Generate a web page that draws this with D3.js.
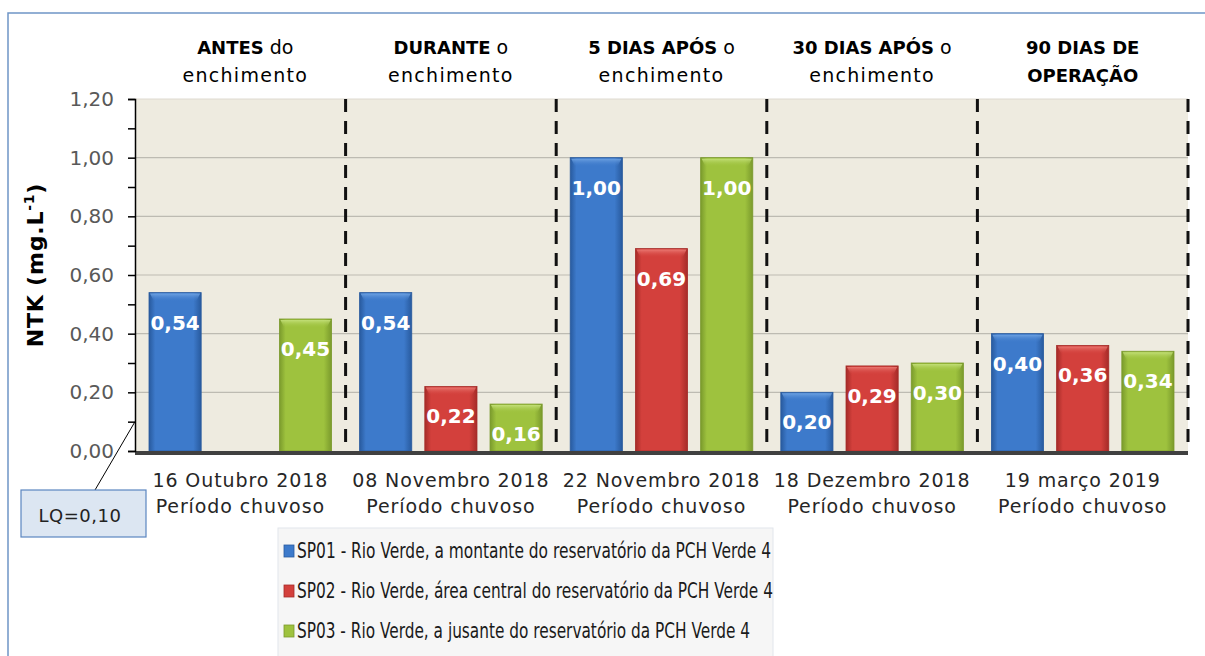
<!DOCTYPE html>
<html><head><meta charset="utf-8">
<script src="https://cdn.jsdelivr.net/npm/d3@7"></script>
<style>body{margin:0;background:#fff}svg{display:block}</style>
</head><body>
<svg id="c" width="1205" height="656"></svg>
<script>
const categories = ["16 Outubro 2018","08 Novembro 2018","22 Novembro 2018","18 Dezembro 2018","19 março 2019"];
const subLabel = "Período chuvoso";
const headersBold = ["ANTES","DURANTE","5 DIAS APÓS","30 DIAS APÓS","90 DIAS DE"];
const headersRest = [" do"," o"," o"," o",""];
const headersLine2 = ["enchimento","enchimento","enchimento","enchimento","OPERAÇÃO"];
const series = ["SP01 - Rio Verde, a montante do reservatório da PCH Verde 4",
                "SP02 - Rio Verde, área central do reservatório da PCH Verde 4",
                "SP03 - Rio Verde, a jusante do reservatório da PCH Verde 4"];
const sp01 = [0.54, 0.54, 1.00, 0.20, 0.40];
const sp02 = [null, 0.22, 0.69, 0.29, 0.36];
const sp03 = [0.45, 0.16, 1.00, 0.30, 0.34];
const yTicks = [0, 0.2, 0.4, 0.6, 0.8, 1.0, 1.2];
const lq = 0.10;

const svg = d3.select("#c");
const font = "'DejaVu Sans', sans-serif";
const L = 135, R = 1188, T = 99, B = 451;

// outer border
svg.append("path").attr("d", `M8,656 V13 H1205`).attr("fill","none").attr("stroke","#6f95c6").attr("stroke-width",1.5);

const x0 = d3.scaleBand().domain(categories).range([L, R]).padding(0);
const x1 = d3.scaleBand().domain(series).range([14, x0.bandwidth()-14]).paddingInner(0.2);
const y = d3.scaleLinear().domain([0, 1.2]).range([B, T]);

const defs = svg.append("defs");
const pal = [
  {id:"g0", edge:"#285a9e", mid:"#3d7acb", light:"#6fa3e2"},
  {id:"g1", edge:"#a52b28", mid:"#d3403c", light:"#eb7a74"},
  {id:"g2", edge:"#7a9a2c", mid:"#9ec23e", light:"#c4e07a"}
];
pal.forEach(p => {
  const g = defs.append("linearGradient").attr("id", p.id).attr("x1","0").attr("x2","1").attr("y1","0").attr("y2","0");
  g.append("stop").attr("offset","0").attr("stop-color", p.edge);
  g.append("stop").attr("offset","0.12").attr("stop-color", p.mid);
  g.append("stop").attr("offset","0.85").attr("stop-color", p.mid);
  g.append("stop").attr("offset","1").attr("stop-color", p.edge);
  const h = defs.append("linearGradient").attr("id", p.id+"t").attr("x1","0").attr("x2","0").attr("y1","0").attr("y2","1");
  h.append("stop").attr("offset","0").attr("stop-color", p.light).attr("stop-opacity",0.95);
  h.append("stop").attr("offset","1").attr("stop-color", p.mid).attr("stop-opacity",0);
});

// plot background
svg.append("rect").attr("x", L).attr("y", T).attr("width", R-L).attr("height", B-T).attr("fill","#eeebe0");
svg.append("line").attr("x1",L).attr("x2",R).attr("y1",T).attr("y2",T).attr("stroke","#dedad0");

// grid
svg.append("g").selectAll("line").data(yTicks.filter(d=>d>0 && d<1.2)).join("line")
  .attr("x1", L).attr("x2", R).attr("y1", d=>y(d)).attr("y2", d=>y(d))
  .attr("stroke","#bdbbb2").attr("stroke-width",1.2);

// dashed separators
svg.append("g").selectAll("line").data(categories).join("line")
  .attr("x1", d=>x0(d)+x0.bandwidth()).attr("x2", d=>x0(d)+x0.bandwidth())
  .attr("y1", T).attr("y2", B)
  .attr("stroke","#111").attr("stroke-width",3).attr("stroke-dasharray","13,9");

// bars
const data = [sp01, sp02, sp03];
const groups = svg.append("g").selectAll("g").data(categories).join("g")
  .attr("transform", d=>`translate(${x0(d)},0)`);
groups.each(function(cat, ci){
  const g = d3.select(this);
  series.forEach((s, si) => {
    const v = data[si][ci];
    if (v == null) return;
    const bx = x1(s), bw = x1.bandwidth(), by = y(v), bh = B - y(v);
    g.append("rect").attr("x", bx).attr("y", by).attr("width", bw).attr("height", bh)
      .attr("fill", `url(#${pal[si].id})`).attr("stroke", pal[si].edge).attr("stroke-width",0.8);
    g.append("path").attr("d", `M${bx+1},${by+1} H${bx+bw-1} L${bx+bw-5},${by+9} H${bx+5} Z`)
      .attr("fill", `url(#${pal[si].id}t)`);
    g.append("text").attr("x", bx + bw/2).attr("y", by + 37)
      .attr("text-anchor","middle").attr("font-family", font).attr("font-weight","bold")
      .attr("font-size", 20).attr("fill","#fff").text(d3.format(".2f")(v).replace(".", ","));
  });
});

// bottom axis line
svg.append("line").attr("x1", L).attr("x2", R).attr("y1", B+2).attr("y2", B+2).attr("stroke","#404040").attr("stroke-width",4);

// y axis
const yAxis = d3.axisLeft(y).tickValues(d3.range(0, 1.21, 0.1)).tickSize(7).tickPadding(4)
  .tickFormat(d => { const r = Math.round(d*10); return r % 2 === 0 ? d3.format(".2f")(d).replace(".", ",") : ""; });
const ya = svg.append("g").attr("transform", `translate(${L},0)`).call(yAxis);
ya.select(".domain").attr("stroke","#000").attr("stroke-width",1.5);
ya.selectAll(".tick line").attr("stroke","#000").attr("stroke-width",1.5);
ya.selectAll(".tick text").attr("font-family", font).attr("font-size", 20).attr("fill","#595959").attr("dx", -10);

// y title
svg.append("text").attr("transform", "translate(43,265) rotate(-90)").attr("text-anchor","middle")
  .attr("font-family", font).attr("font-weight","bold").attr("font-size", 22).attr("letter-spacing", 0.8).attr("fill","#000")
  .call(t => { t.append("tspan").text("NTK (mg.L");
               t.append("tspan").attr("font-size",14).attr("dy",-9).text("-1");
               t.append("tspan").attr("dy",9).text(")"); });

// category labels
const cl = svg.append("g").selectAll("text").data(categories).join("text")
  .attr("text-anchor","middle").attr("font-family", font).attr("font-size", 19).attr("letter-spacing", 0.9).attr("fill","#262626");
cl.append("tspan").attr("x", d=>x0(d)+x0.bandwidth()/2).attr("y", 487).text(d=>d);
cl.append("tspan").attr("x", d=>x0(d)+x0.bandwidth()/2).attr("y", 513).text(subLabel);

// headers
const hd = svg.append("g").selectAll("text").data(categories).join("text")
  .attr("text-anchor","middle").attr("font-family", font).attr("font-size", 18).attr("fill","#000");
hd.each(function(d, i){
  const t = d3.select(this);
  const cx = x0(d) + x0.bandwidth()/2 + (i===0 ? 5 : 0);
  t.append("tspan").attr("x", cx).attr("y", 54).attr("font-weight","bold").text(headersBold[i]);
  if (headersRest[i]) t.append("tspan").attr("font-size", 19).text(headersRest[i]);
  const l2 = t.append("tspan").attr("x", cx).attr("y", 82).attr("font-weight", i===4 ? "bold" : "normal").text(headersLine2[i]);
  if (i !== 4) l2.attr("font-size", 19).attr("letter-spacing", 1.3);
});

// LQ callout
svg.append("line").attr("x1", 95).attr("y1", 490).attr("x2", L).attr("y2", y(lq))
  .attr("stroke","#000").attr("stroke-width",1);
svg.append("rect").attr("x",21).attr("y",490).attr("width",125).attr("height",47)
  .attr("fill","#dce6f2").attr("stroke","#5b86c0").attr("stroke-width",1.2);
svg.append("text").attr("x", 80).attr("y", 522).attr("text-anchor","middle")
  .attr("font-family", font).attr("font-size", 18).attr("letter-spacing", 0.5).attr("fill","#222").text("LQ=" + d3.format(".2f")(lq).replace(".", ","));

// legend
svg.append("rect").attr("x",278).attr("y",528).attr("width",495).attr("height",140)
  .attr("fill","#f6f6f6").attr("stroke","#e2e6ec");
const lg = svg.append("g").selectAll("g").data(series).join("g")
  .attr("transform", (d,i)=>`translate(284,${558 + i*40})`);
lg.append("rect").attr("x",0).attr("y",-13).attr("width",10).attr("height",12)
  .attr("fill",(d,i)=>pal[i].mid).attr("stroke",(d,i)=>pal[i].edge).attr("stroke-width",0.8);
const lens = [474, 476, 453];
lg.append("text").attr("x",13).attr("y",0).attr("font-family", font).attr("font-size",22).attr("fill","#1a1a1a")
  .attr("textLength",(d,i)=>lens[i]).attr("lengthAdjust","spacingAndGlyphs").text(d=>d);
</script>
</body></html>
